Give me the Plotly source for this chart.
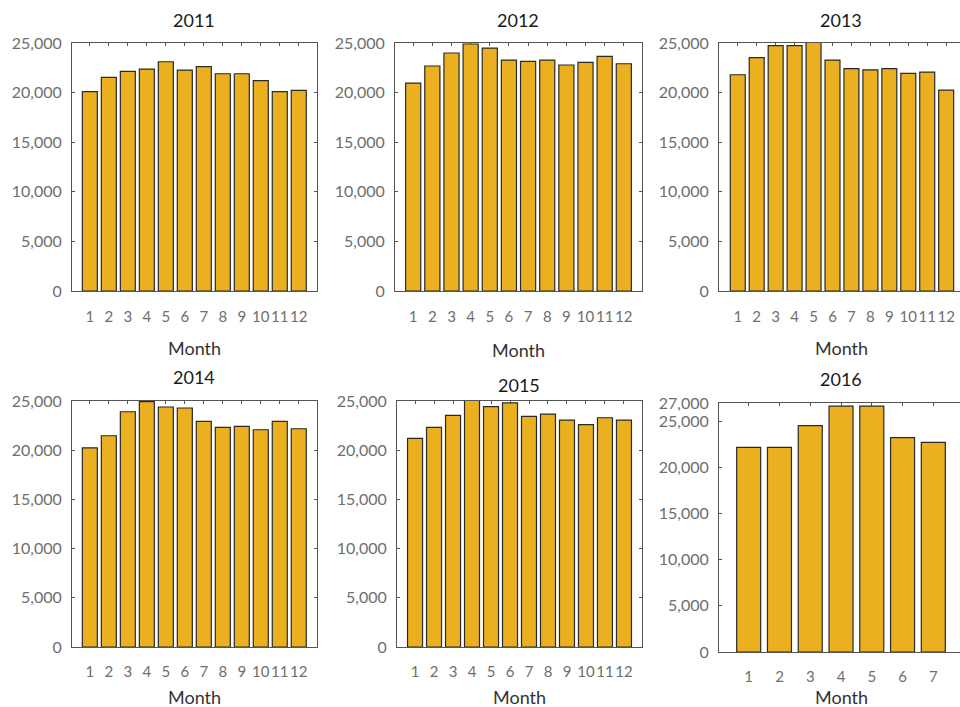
import plotly.graph_objects as go

W, H = 960, 707

# ---- data -------------------------------------------------------------
years = ["2011", "2012", "2013", "2014", "2015", "2016"]
months_full = list(range(1, 13))
months_2016 = list(range(1, 8))

sales_2011 = [20090, 21530, 22140, 22370, 23110, 22270, 22610, 21900, 21900, 21200, 20090, 20220]
sales_2012 = [20960, 22680, 23990, 24900, 24490, 23280, 23150, 23280, 22780, 23050, 23650, 22910]
sales_2013 = [21800, 23520, 24730, 24730, 25080, 23280, 22410, 22300, 22410, 21930, 22070, 20250]
sales_2014 = [20240, 21470, 23910, 24930, 24390, 24290, 22930, 22320, 22420, 22080, 22930, 22180]
sales_2015 = [21200, 22320, 23540, 25050, 24420, 24800, 23440, 23670, 23060, 22590, 23300, 23060]
sales_2016 = [22190, 22190, 24540, 26660, 26660, 23240, 22730]

y_ticks_std = [0, 5000, 10000, 15000, 20000, 25000]
y_ticks_2016 = [0, 5000, 10000, 15000, 20000, 25000, 27000]

series = [
    (months_full, sales_2011),
    (months_full, sales_2012),
    (months_full, sales_2013),
    (months_full, sales_2014),
    (months_full, sales_2015),
    (months_2016, sales_2016),
]

# ---- panel layout (pixel boxes: left, right, top, bottom) --------------
boxes = [
    (72, 317, 43, 291),
    (395, 642, 43, 291),
    (719, 960, 43, 291),
    (72, 317, 401, 647),
    (397, 642, 401, 647),
    (719, 960, 403, 652),
]
x_ranges = [
    [0.06, 12.96], [0.05, 12.95], [0.01, 12.73],
    [0.06, 12.96], [0.05, 12.95], [0.035, 7.867],
]
y_ranges = [[0, 25000]] * 5 + [[0, 27000]]
title_pos = [(194, 20), (518, 20), (841, 20), (194, 377), (519, 385), (841, 379)]
month_pos = [(194, 348), (518, 350), (841, 348), (194, 697), (519, 697), (841, 697)]
bar_widths = [0.79] * 5 + [0.78]
tick_standoff = [12, 12, 12, 11, 11, 11]

BAR = "#EBB020"
EDGE = "#2a2a2a"
FRAME = "#555555"
TICKCOL = "#6e6e6e"
FONT = "Lato"

fig = go.Figure()
annotations = []

for i, ((xs, ys), (l, r, t, b)) in enumerate(zip(series, boxes)):
    n = "" if i == 0 else str(i + 1)
    fig.add_trace(go.Bar(
        x=xs, y=ys, width=bar_widths[i],
        marker=dict(color=BAR, line=dict(color=EDGE, width=1.2)),
        xaxis="x" + n, yaxis="y" + n,
        showlegend=False, cliponaxis=True,
    ))
    right_col = i in (2, 5)
    fig.layout["xaxis" + n] = dict(
        domain=[l / W, r / W], range=x_ranges[i], anchor="y" + n,
        tickmode="array", tickvals=xs, ticktext=[str(v) for v in xs],
        tickangle=0,
        showline=True, linecolor=FRAME, linewidth=1, mirror="ticks",
        ticks="inside", ticklen=3, tickcolor=FRAME,
        showgrid=False, zeroline=False, fixedrange=True, automargin=False,
        tickfont=dict(family=FONT, size=15, color=TICKCOL),
        ticklabelstandoff=tick_standoff[i],
        layer="below traces",
    )
    fig.layout["yaxis" + n] = dict(
        domain=[1 - b / H, 1 - t / H], range=y_ranges[i], anchor="x" + n,
        tickmode="array", tickvals=y_ticks_2016 if i == 5 else y_ticks_std,
        tickformat=",",
        showline=True, linecolor=FRAME, linewidth=1,
        mirror=False if right_col else "ticks",
        ticks="inside", ticklen=3, tickcolor=FRAME,
        showgrid=False, zeroline=False, fixedrange=True, automargin=False,
        tickfont=dict(family=FONT, size=16, color=TICKCOL),
        ticklabelstandoff=6,
        layer="below traces",
    )
    tx, ty = title_pos[i]
    annotations.append(dict(
        x=tx / W, y=1 - ty / H, xref="paper", yref="paper",
        text=years[i], showarrow=False, xanchor="center", yanchor="middle",
        font=dict(family=FONT, size=18, color="#1a1a1a"),
    ))
    mx, my = month_pos[i]
    annotations.append(dict(
        x=mx / W, y=1 - my / H, xref="paper", yref="paper",
        text="Month", showarrow=False, xanchor="center", yanchor="middle",
        font=dict(family=FONT, size=18, color="#333333"),
    ))

fig.update_layout(
    width=W, height=H,
    margin=dict(l=0, r=0, t=0, b=0, autoexpand=False),
    paper_bgcolor="white", plot_bgcolor="white",
    annotations=annotations,
    showlegend=False,
)

fig.write_html("out.html", config={"displayModeBar": False})
